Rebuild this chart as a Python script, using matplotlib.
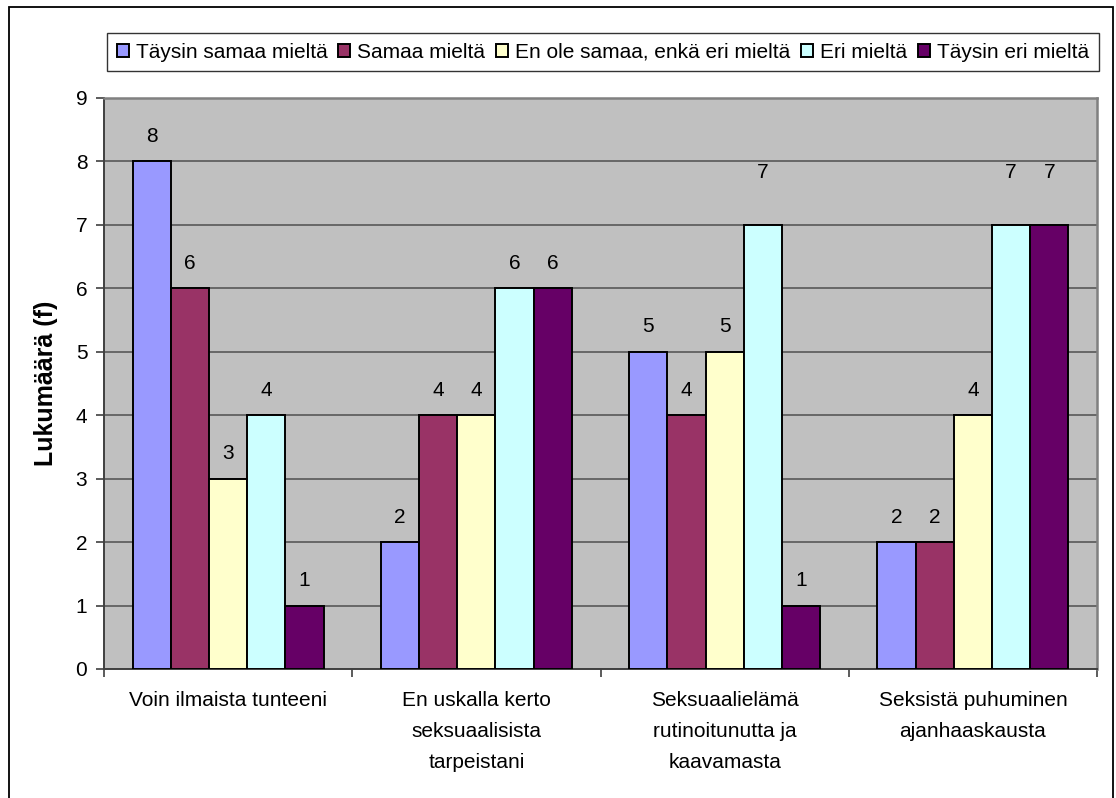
import numpy as np
import matplotlib
matplotlib.use("Agg")
import matplotlib.pyplot as plt
from matplotlib.patches import Rectangle

plt.rcParams["font.family"] = ["Liberation Sans", "DejaVu Sans"]

categories = [
    "Voin ilmaista tunteeni",
    "En uskalla kerto\nseksuaalisista\ntarpeistani",
    "Seksuaalielämä\nrutinoitunutta ja\nkaavamasta",
    "Seksistä puhuminen\najanhaaskausta",
]
series_names = [
    "Täysin samaa mieltä",
    "Samaa mieltä",
    "En ole samaa, enkä eri mieltä",
    "Eri mieltä",
    "Täysin eri mieltä",
]
taysin_samaa = [8, 2, 5, 2]
samaa = [6, 4, 4, 2]
ei_samaa_eri = [3, 4, 5, 4]
eri = [4, 6, 7, 7]
taysin_eri = [1, 6, 1, 7]
values = [taysin_samaa, samaa, ei_samaa_eri, eri, taysin_eri]
colors = ["#9999FF", "#993366", "#FFFFCC", "#CCFFFF", "#660066"]

fig = plt.figure(figsize=(11.16, 7.98), dpi=100)
ax = fig.add_axes([0.0932, 0.1617, 0.8898, 0.7155])

x = np.arange(len(categories))
width = 1 / 6.5
bars = []
for i, (name, vals, col) in enumerate(zip(series_names, values, colors)):
    pos = x + (i - 2) * width
    b = ax.bar(pos, vals, width, color=col, edgecolor="black", linewidth=1.4,
               label=name, zorder=3)
    bars.append(b)
    for px, v in zip(pos, vals):
        lift = 38 if v == 7 else 18
        ax.annotate(str(v), (px, v), xytext=(0, lift), textcoords="offset points",
                    ha="center", va="center", fontsize=15)

ax.set_facecolor("#C0C0C0")
ax.set_xlim(-0.5, len(categories) - 0.5)
ax.set_ylim(0, 9)
ax.set_yticks(range(10))
ax.yaxis.grid(True, color="#585858", linewidth=1.2)
ax.set_axisbelow(True)

ax.set_xticks(x)
ax.set_xticklabels(categories, fontsize=15)
for lab in ax.get_xticklabels():
    lab.set_linespacing(1.8)
ax.set_xticks(np.arange(len(categories) + 1) - 0.5, minor=True)
ax.tick_params(axis="x", which="major", length=0, pad=16)
ax.tick_params(axis="x", which="minor", length=6, width=1.2, color="#404040")
ax.tick_params(axis="y", length=6, width=1.2, color="#404040", labelsize=15, pad=6)

for side in ("left", "bottom"):
    ax.spines[side].set_color("#404040")
    ax.spines[side].set_linewidth(1.4)
for side in ("top", "right"):
    ax.spines[side].set_color("#808080")
    ax.spines[side].set_linewidth(1.8)

ax.set_ylabel("Lukumäärä (f)", fontsize=18, fontweight="bold")
ax.yaxis.set_label_coords(-0.046, 0.5)

leg = fig.legend(handles=bars, labels=series_names, loc="center",
                 bbox_to_anchor=(0.5403, 0.9348), ncol=5, fontsize=15,
                 frameon=True, fancybox=False, handlelength=0.58,
                 handleheight=0.58, handletextpad=0.35, columnspacing=0.5,
                 borderpad=0.45)
leg.get_frame().set_edgecolor("black")
leg.get_frame().set_linewidth(1.0)
for h in leg.legend_handles:
    h.set_linewidth(1.4)

# outer chart border (open at the bottom)
fig.patches.append(Rectangle((0.0081, -0.05), 0.9892, 1.0412, transform=fig.transFigure,
                             fill=False, edgecolor="black", linewidth=1.3))

fig.savefig("out.png", dpi=100, facecolor="white")
